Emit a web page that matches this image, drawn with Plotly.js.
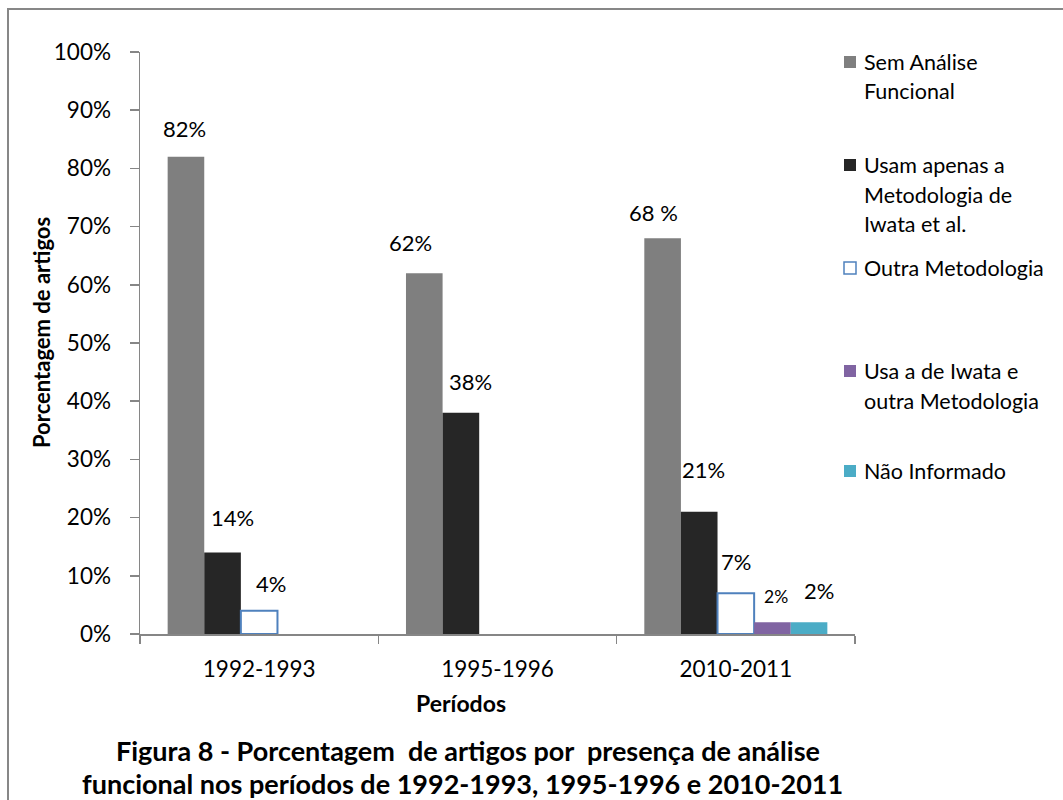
<!DOCTYPE html>
<html>
<head>
<meta charset="utf-8">
<script src="https://cdn.plot.ly/plotly-3.0.1.min.js"></script>
<style>
  html, body { margin: 0; padding: 0; background: #fff; }
  #chart { width: 1063px; height: 800px; }
</style>
</head>
<body>
<div id="chart"></div>
<script>
// ---------- DATA ----------
const categories = ["1992-1993", "1995-1996", "2010-2011"];
const seriesNames = [
  "Sem Análise Funcional",
  "Usam apenas a Metodologia de Iwata et al.",
  "Outra Metodologia",
  "Usa a de Iwata e outra Metodologia",
  "Não Informado"
];
const legendLines = [
  ["Sem Análise", "Funcional"],
  ["Usam apenas a", "Metodologia de", "Iwata et al."],
  ["Outra Metodologia"],
  ["Usa a de Iwata e", "outra Metodologia"],
  ["Não Informado"]
];
const semAnalise   = [0.82, 0.62, 0.68];
const usamIwata    = [0.14, 0.38, 0.21];
const outraMetod   = [0.04, null, 0.07];
const iwataEOutra  = [null, null, 0.02];
const naoInformado = [null, null, 0.02];
const seriesValues = [semAnalise, usamIwata, outraMetod, iwataEOutra, naoInformado];

// data label texts (as printed in the chart)
const labelTexts = [
  ["82%", "62%", "68 %"],
  ["14%", "38%", "21%"],
  ["4%", null, "7%"],
  [null, null, "2%"],
  [null, null, "2%"]
];
// label anchor height (value units) and horizontal nudge (px) as placed in the original
const labelY = [
  [0.868, 0.672, 0.725],
  [0.201, 0.433, 0.282],
  [0.086, null, 0.124],
  [null, null, 0.064],
  [null, null, 0.074]
];
const labelDx = [
  [-1, -14, -9],
  [10, 10, 4],
  [12, 0, 0],
  [0, 0, 4],
  [0, 0, 10]
];
const labelSize = [
  [22, 22, 22],
  [22, 22, 22],
  [22, 22, 22],
  [17.5, 17.5, 17.5],
  [22, 22, 22]
];

const yTickVals = [0, 0.1, 0.2, 0.3, 0.4, 0.5, 0.6, 0.7, 0.8, 0.9, 1.0];
const yTickText = ["0%", "10%", "20%", "30%", "40%", "50%", "60%", "70%", "80%", "90%", "100%"];

const chartTitle1 = "Figura 8 - Porcentagem  de artigos por  presença de análise";
const chartTitle2 = "funcional nos períodos de 1992-1993, 1995-1996 e 2010-2011";
const xTitle = "Períodos";
const yTitle = "Porcentagem de artigos";

// ---------- STYLE ----------
const fillColors = ["#7F7F7F", "#262626", "#FFFFFF", "#8064A2", "#4BACC6"];
const lineColors = ["#7F7F7F", "#262626", "#4F81BD", "#8064A2", "#4BACC6"];
const lineWidths = [0, 0, 2, 0, 0];
const FONT = "Lato, 'Open Sans', sans-serif";
const axisColor = "#868686";

const W = 1063, H = 800;
const M = { l: 140, r: 208, t: 52, b: 166 };
const PW = W - M.l - M.r, PH = H - M.t - M.b;
const px2x = p => (p - M.l) / PW;
const px2y = p => (H - M.b - p) / PH;

const BARGAP = 0.232;
const catPx = PW / categories.length;
const barPx = catPx * (1 - BARGAP) / seriesValues.length;

const traces = seriesValues.map((vals, i) => ({
  type: "bar",
  name: seriesNames[i],
  x: categories,
  y: vals,
  marker: {
    color: fillColors[i],
    line: { color: lineColors[i], width: lineWidths[i] }
  },
  showlegend: false,
  hoverinfo: "x+y+name"
}));

const annotations = [];
// data labels
labelTexts.forEach((row, i) => {
  row.forEach((t, k) => {
    if (t === null) return;
    annotations.push({
      xref: "x", yref: "y",
      x: categories[k], y: labelY[i][k],
      xshift: (i - (seriesValues.length - 1) / 2) * barPx + labelDx[i][k],
      text: t, showarrow: false,
      xanchor: "center", yanchor: "middle",
      font: { family: FONT, size: labelSize[i][k], color: "#000" }
    });
  });
});

// legend (custom layout to match spacing)
const legendStartY = [62, 165, 268, 371, 471];
const legendLineH = 29.5;
const shapes = [];
legendLines.forEach((lines, i) => {
  const cy = legendStartY[i];
  shapes.push({
    type: "rect", xref: "paper", yref: "paper",
    x0: px2x(844), x1: px2x(856), y0: px2y(cy - 6), y1: px2y(cy + 6),
    fillcolor: fillColors[i],
    line: { color: lineColors[i], width: i === 2 ? 1.5 : 0 }
  });
  lines.forEach((ln, j) => {
    annotations.push({
      xref: "paper", yref: "paper",
      x: px2x(862), y: px2y(cy + j * legendLineH),
      xanchor: "left", yanchor: "middle",
      text: ln, showarrow: false,
      font: { family: FONT, size: 21.5, color: "#000" }
    });
  });
});

// titles
annotations.push({
  xref: "paper", yref: "paper", x: px2x(42), y: px2y(333),
  text: "<b>" + yTitle + "</b>", textangle: -90, showarrow: false,
  xanchor: "center", yanchor: "middle",
  font: { family: FONT, size: 22, color: "#000" }
});
annotations.push({
  xref: "paper", yref: "paper", x: px2x(461), y: px2y(703),
  text: "<b>" + xTitle + "</b>", showarrow: false,
  xanchor: "center", yanchor: "middle",
  font: { family: FONT, size: 23, color: "#000" }
});
annotations.push({
  xref: "paper", yref: "paper", x: px2x(468), y: px2y(750),
  text: "<b>" + chartTitle1 + "</b>", showarrow: false,
  xanchor: "center", yanchor: "middle",
  font: { family: FONT, size: 27, color: "#000" }
});
annotations.push({
  xref: "paper", yref: "paper", x: px2x(462), y: px2y(783),
  text: "<b>" + chartTitle2 + "</b>", showarrow: false,
  xanchor: "center", yanchor: "middle",
  font: { family: FONT, size: 27, color: "#000" }
});

// outer frame
shapes.push({
  type: "rect", xref: "paper", yref: "paper",
  x0: px2x(8), x1: px2x(1075), y0: px2y(9), y1: px2y(815),
  line: { color: "#878787", width: 2 }, fillcolor: "rgba(0,0,0,0)", layer: "below"
});

const layout = {
  width: W, height: H,
  margin: M,
  paper_bgcolor: "#fff", plot_bgcolor: "#fff",
  barmode: "group",
  bargap: BARGAP, bargroupgap: 0,
  showlegend: false,
  font: { family: FONT, size: 22, color: "#000" },
  xaxis: {
    type: "category",
    showline: true, linecolor: axisColor, linewidth: 1.5,
    ticks: "outside", tickson: "boundaries", ticklen: 8, tickcolor: axisColor, tickwidth: 1.5,
    ticklabelstandoff: 14,
    showgrid: false, zeroline: false,
    tickfont: { family: FONT, size: 22.5, color: "#000" },
    fixedrange: true
  },
  yaxis: {
    range: [0, 1],
    tickvals: yTickVals, ticktext: yTickText,
    showline: true, linecolor: axisColor, linewidth: 1.5,
    ticks: "outside", ticklen: 9, tickcolor: axisColor, tickwidth: 1.5,
    ticklabelstandoff: 14,
    showgrid: false, zeroline: false,
    tickfont: { family: FONT, size: 22.5, color: "#000" },
    fixedrange: true
  },
  annotations: annotations,
  shapes: shapes
};

Plotly.newPlot("chart", traces, layout, { displayModeBar: false, staticPlot: true });
</script>
</body>
</html>
